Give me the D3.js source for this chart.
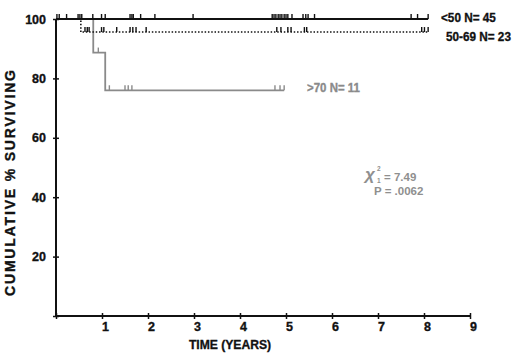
<!DOCTYPE html>
<html>
<head>
<meta charset="utf-8">
<script src="https://cdn.jsdelivr.net/npm/d3@7"></script>
<style>
  body { margin: 0; background: #fff; }
  svg text { font-family: "Liberation Sans", Arial, sans-serif; font-weight: bold; }
  .heavy { stroke-width: 0.35; }
</style>
</head>
<body>
<script>
// survival steps: [time, % surviving]
var under50Steps = [[0, 100], [8.09, 100]];
var mid5069Steps = [[0, 100], [0.54, 95.6], [8.09, 95.6]];
var over70Steps = [[0, 100], [0.81, 88.7], [1.07, 76], [4.96, 76]];

// censored observations (years)
var under50Censor = [0.02, 0.07, 0.23, 0.48, 0.52, 0.56, 0.8, 0.99, 1.07, 1.61, 1.65, 1.68, 1.84, 2.15, 2.98,
    4.7, 4.74, 4.78, 4.83, 4.87, 4.91, 4.96, 5.0, 5.04, 5.13, 5.37, 5.43, 5.48, 5.62, 7.72, 7.86, 8.09];
var mid5069Censor = [0.63, 0.68, 0.72, 0.99, 1.04, 1.32, 1.61, 1.67, 1.74, 1.96, 4.8, 4.89, 5.04, 5.11,
    5.4, 5.45, 7.95, 8.01, 8.09];
var over70Censor = [0.92, 1.16, 1.5, 1.57, 1.65, 4.76, 4.87, 4.96];

var xTicks = [0, 1, 2, 3, 4, 5, 6, 7, 8, 9];
var yTicks = [0, 20, 40, 60, 80, 100];

var width = 520, height = 356;
var x = d3.scaleLinear().domain([0, 9]).range([56, 470]);
var y = d3.scaleLinear().domain([0, 100]).range([316, 19]);

var svg = d3.select('body').append('svg').attr('width', width).attr('height', height);

function stepValue(steps, t) {
    var v = steps[0][1];
    steps.forEach(function(s) { if (s[0] <= t) v = s[1]; });
    return v;
}

var line = d3.line()
    .x(function(d) { return x(d[0]); })
    .y(function(d) { return y(d[1]); })
    .curve(d3.curveStepAfter);

function drawGroup(steps, censor, color, width, dash) {
    var g = svg.append('g');
    g.append('path')
        .attr('d', line(steps))
        .attr('fill', 'none')
        .attr('stroke', color)
        .attr('stroke-width', width)
        .attr('stroke-dasharray', dash);
    g.selectAll('line').data(censor).enter().append('line')
        .attr('x1', function(d) { return x(d); })
        .attr('x2', function(d) { return x(d); })
        .attr('y1', function(d) { return y(stepValue(steps, d)); })
        .attr('y2', function(d) { return y(stepValue(steps, d)) - 5; })
        .attr('stroke', color)
        .attr('stroke-width', 1.4);
}

drawGroup(over70Steps, over70Censor, '#8a8a8a', 1.8, null);
drawGroup(mid5069Steps, mid5069Censor, '#111', 1.6, '1.5,1.8');
drawGroup(under50Steps, under50Censor, '#111', 2, null);

// axes
var xAxis = svg.append('g')
    .attr('transform', 'translate(0,' + y(0) + ')')
    .call(d3.axisBottom(x).tickValues(xTicks).tickSize(3).tickFormat(function(d) { return d === 0 ? '' : d; }));
xAxis.select('.domain').attr('stroke', '#111').attr('stroke-width', 2).attr('d', 'M' + x(0) + ',0H' + x(9));
xAxis.selectAll('.tick line').attr('y1', -3).attr('y2', 3).attr('stroke', '#111').attr('stroke-width', 1.5);
xAxis.selectAll('.tick text').attr('x', 3).attr('y', 6).attr('font-size', 12.5).attr('fill', '#111')
    .attr('class', 'heavy').attr('stroke', '#111')
    .attr('font-family', '"Liberation Sans", Arial, sans-serif');

var yAxis = svg.append('g')
    .attr('transform', 'translate(' + x(0) + ',0)')
    .call(d3.axisLeft(y).tickValues(yTicks).tickSize(3).tickFormat(function(d) { return d === 0 ? '' : d; }));
yAxis.select('.domain').attr('stroke', '#111').attr('stroke-width', 2).attr('d', 'M0,' + y(100) + 'V' + y(0));
yAxis.selectAll('.tick line').attr('x1', -3).attr('x2', 3).attr('stroke', '#111').attr('stroke-width', 1.5);
yAxis.selectAll('.tick text').attr('x', -10).attr('font-size', 12.5).attr('fill', '#111')
    .attr('class', 'heavy').attr('stroke', '#111')
    .attr('font-family', '"Liberation Sans", Arial, sans-serif');

// axis titles
svg.append('text')
    .attr('transform', 'translate(230,349) scale(0.9,1)')
    .attr('text-anchor', 'middle').attr('font-size', 13.5).attr('fill', '#111')
    .attr('class', 'heavy').attr('stroke', '#111')
    .text('TIME (YEARS)');
svg.append('text')
    .attr('transform', 'translate(15,183) rotate(-90)')
    .attr('text-anchor', 'middle').attr('font-size', 14).attr('fill', '#111')
    .attr('class', 'heavy').attr('stroke', '#111')
    .attr('textLength', 226).attr('lengthAdjust', 'spacing')
    .text('CUMULATIVE % SURVIVING');

// group labels
svg.append('text').attr('transform', 'translate(441,22) scale(0.87,1)')
    .attr('class', 'heavy').attr('stroke', '#111')
    .attr('font-size', 13.5).attr('fill', '#111').text('<50 N= 45');
svg.append('text').attr('transform', 'translate(446,41) scale(0.87,1)')
    .attr('class', 'heavy').attr('stroke', '#111')
    .attr('font-size', 13.5).attr('fill', '#111').text('50-69 N= 23');
svg.append('text').attr('transform', 'translate(307,92) scale(0.85,1)')
    .attr('class', 'heavy').attr('stroke', '#8a8a8a')
    .attr('font-size', 13.5).attr('fill', '#8a8a8a').text('>70 N= 11');

// statistics
var stat = svg.append('g').attr('fill', '#8f8f8f');
stat.append('text').attr('x', 365).attr('y', 180)
    .attr('font-family', '"DejaVu Serif", serif').attr('font-weight', 'normal').attr('font-style', 'italic')
    .attr('font-size', 17).text('\u03C7');
stat.append('text').attr('x', 377).attr('y', 171).attr('font-size', 6.5).text('2');
stat.append('text').attr('x', 377).attr('y', 183).attr('font-size', 6.5).text('1');
stat.append('text').attr('x', 384).attr('y', 181).attr('font-size', 11.5).text('= 7.49');
stat.append('text').attr('x', 374).attr('y', 195).attr('font-size', 11.5).text('P = .0062');
</script>
</body>
</html>
